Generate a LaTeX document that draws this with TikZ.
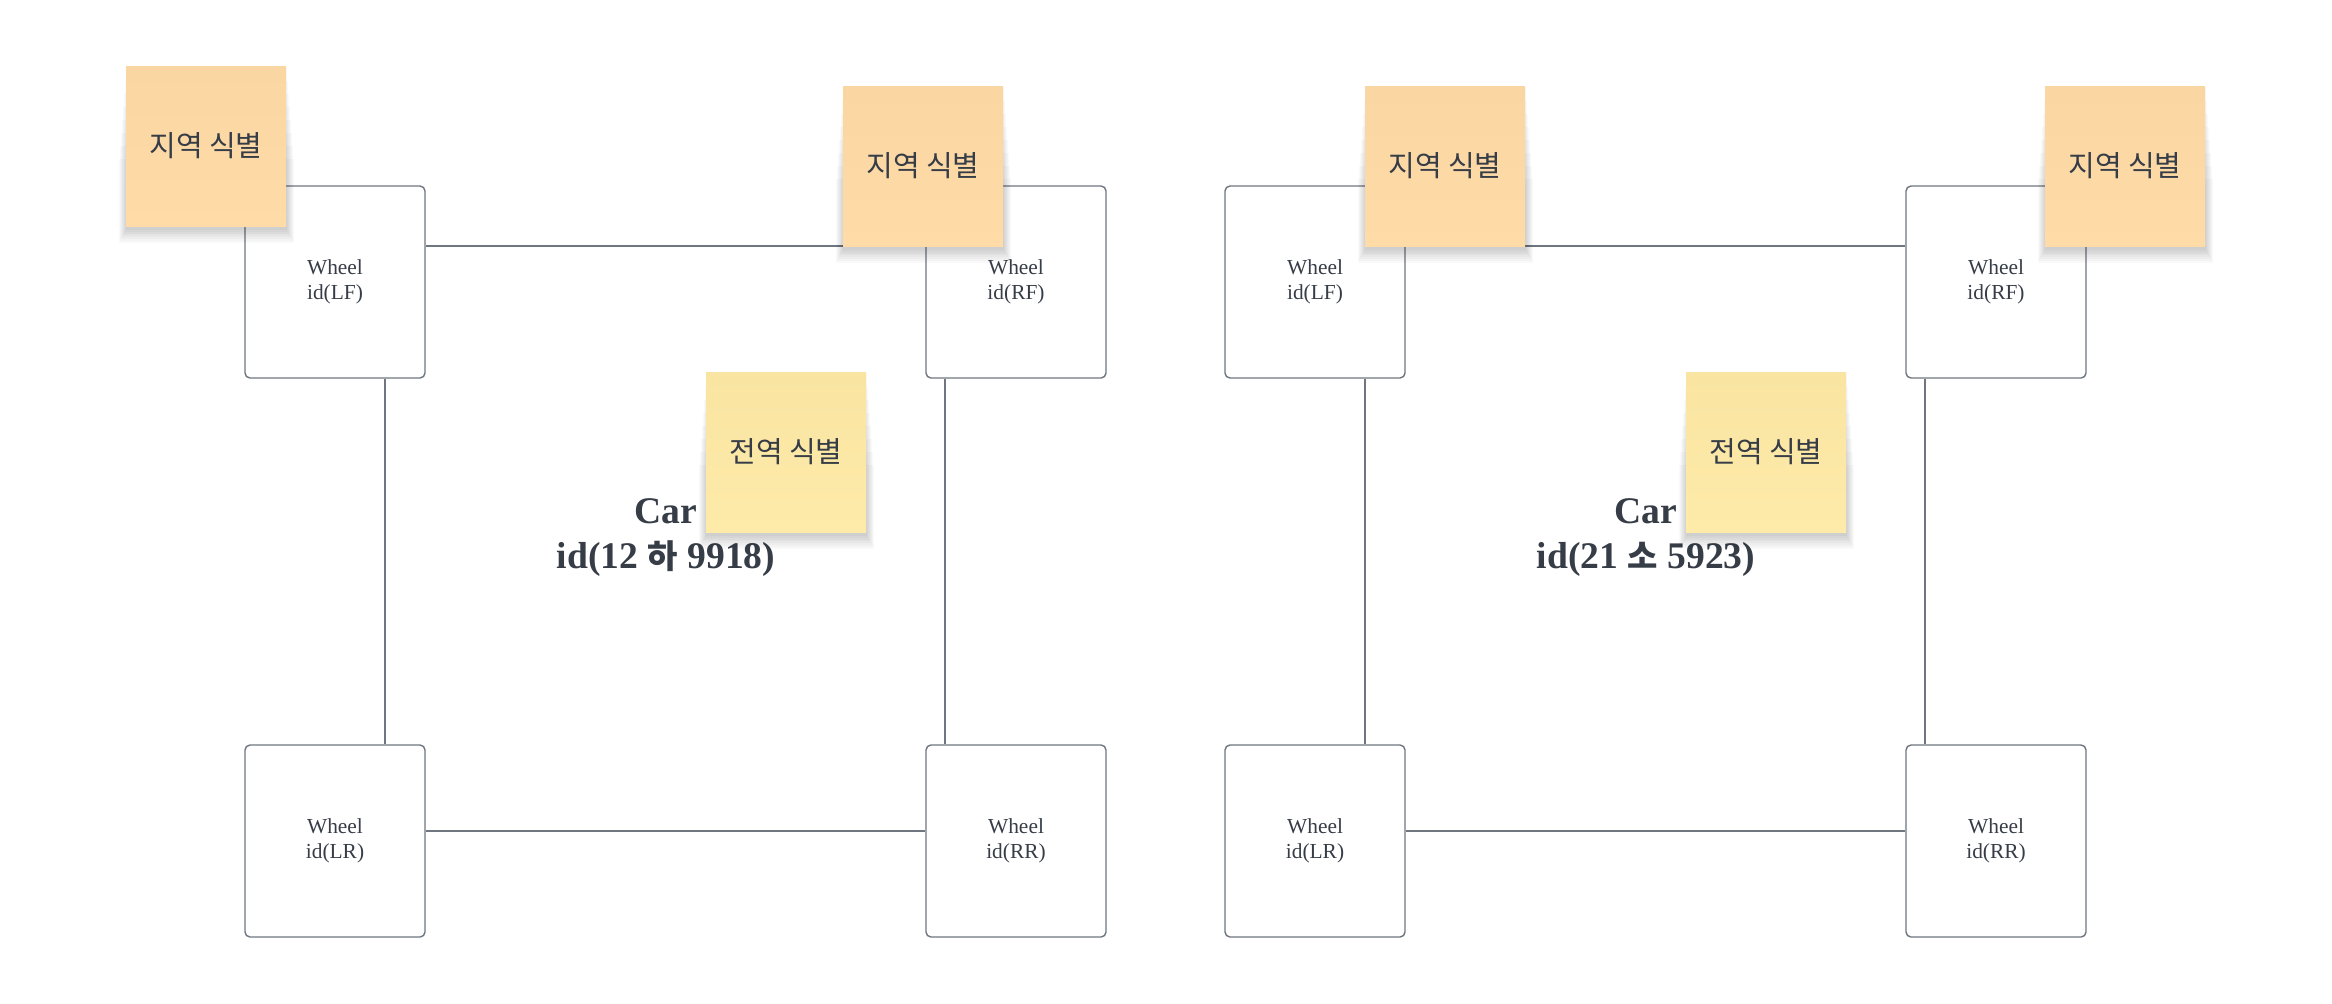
\documentclass[tikz,border=0pt]{standalone}
\usepackage{fontspec}
\setmainfont{Liberation Serif}
\newfontfamily\kr{Noto Sans CJK KR}
\definecolor{txt}{HTML}{363D47}
\definecolor{edgec}{HTML}{6F7680}
\definecolor{orTop}{HTML}{FAD6A3}
\definecolor{orBot}{HTML}{FFDBA8}
\definecolor{yeTop}{HTML}{F9E4A2}
\definecolor{yeBot}{HTML}{FFEBA9}
\tikzset{
  wheel/.style={draw=edgec, line width=0.7pt, rounded corners=2.5pt, fill=white,
    minimum width=90pt, minimum height=96pt, align=center, inner sep=0pt,
    font=\fontsize{10.7}{12.5}\selectfont, text=txt},
  link/.style={draw=edgec, line width=0.7pt},
  shadowlayer/.style={fill=black, opacity=0.024},
  sticky/.style={minimum width=80pt, minimum height=80pt, inner sep=0pt,
    font=\kr\fontsize{14.5}{17}\selectfont, text=txt},
  orsticky/.style={sticky, top color=orTop, bottom color=orBot},
  yesticky/.style={sticky, top color=yeTop, bottom color=yeBot},
  carlabel/.style={align=center, text=txt, inner sep=0pt,
    font=\bfseries\fontsize{18.8}{22.5}\selectfont}
}
% name, x, y, style, text
\newcommand\stickynote[5]{%
  \begin{scope}[shift={(#2,#3)}]
    \foreach \k in {7,6,...,0}{
      \fill[shadowlayer] ({-80.5-\k},{-78+13*\k}) rectangle ({80.5+\k},{84+1.8*\k});
    }
    \node[#4] (#1) at (0,0) {#5};
  \end{scope}}
\begin{document}
\begin{tikzpicture}[x=0.5pt, y=-0.5pt]
\fill[white] (0,0) rectangle (2332,1003);
\useasboundingbox (0,0) rectangle (2332,1003);

% ---- left car ----
\node[wheel] (lf1) at (335,282) {Wheel\\id(LF)};
\node[wheel] (rf1) at (1016,282) {Wheel\\id(RF)};
\node[wheel] (lr1) at (335,841) {Wheel\\id(LR)};
\node[wheel] (rr1) at (1016,841) {Wheel\\id(RR)};
\draw[link] ([yshift=18pt]lf1.east) -- ([yshift=18pt]rf1.west);
\draw[link] ([yshift=5pt]lr1.east) -- ([yshift=5pt]rr1.west);
\draw[link] ([xshift=25pt]lf1.south) -- ([xshift=25pt]lr1.north);
\draw[link] ([xshift=-35.5pt]rf1.south) -- ([xshift=-35.5pt]rr1.north);
\node[carlabel] (car1) at (666,538) {Car\\id(12 {\kr\fontsize{16.5}{22.5}\selectfont 하} 9918)};

% ---- right car ----
\node[wheel] (lf2) at (1315,282) {Wheel\\id(LF)};
\node[wheel] (rf2) at (1996,282) {Wheel\\id(RF)};
\node[wheel] (lr2) at (1315,841) {Wheel\\id(LR)};
\node[wheel] (rr2) at (1996,841) {Wheel\\id(RR)};
\draw[link] ([yshift=18pt]lf2.east) -- ([yshift=18pt]rf2.west);
\draw[link] ([yshift=5pt]lr2.east) -- ([yshift=5pt]rr2.west);
\draw[link] ([xshift=25pt]lf2.south) -- ([xshift=25pt]lr2.north);
\draw[link] ([xshift=-35.5pt]rf2.south) -- ([xshift=-35.5pt]rr2.north);
\node[carlabel] (car2) at (1646,538) {Car\\id(21 {\kr\fontsize{16.5}{22.5}\selectfont 소} 5923)};

% ---- sticky notes ----
\stickynote{s1}{206}{146}{orsticky}{지역 식별}
\stickynote{s2}{923}{166}{orsticky}{지역 식별}
\stickynote{g1}{786}{452}{yesticky}{전역 식별}
\stickynote{s3}{1445}{166}{orsticky}{지역 식별}
\stickynote{s4}{2125}{166}{orsticky}{지역 식별}
\stickynote{g2}{1766}{452}{yesticky}{전역 식별}
\end{tikzpicture}
\end{document}
